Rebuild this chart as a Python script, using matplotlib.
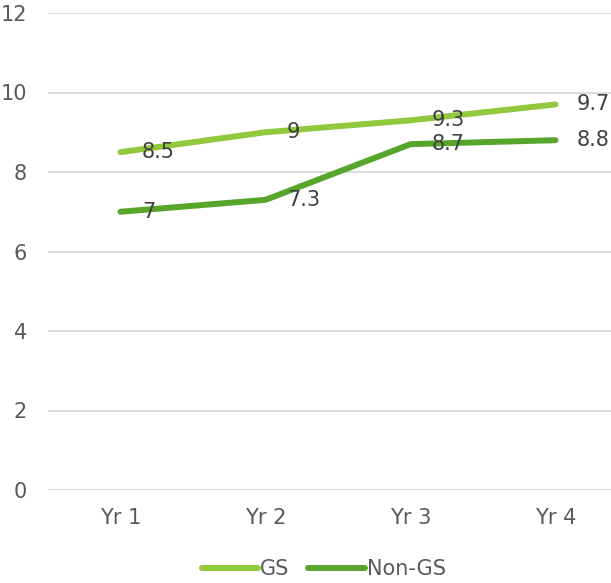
import matplotlib
matplotlib.use("Agg")
import matplotlib.pyplot as plt

# chart data
years = ["Yr 1", "Yr 2", "Yr 3", "Yr 4"]
gs = [8.5, 9, 9.3, 9.7]
non_gs = [7, 7.3, 8.7, 8.8]

gs_color = "#92C83E"
non_gs_color = "#58A52B"
text_color = "#595959"

plt.rcParams['font.family'] = ['DejaVu Sans']

fig = plt.figure(figsize=(6.11, 5.83), dpi=100)
ax = fig.add_axes([48 / 611, 1 - 490 / 583, (611 - 48) / 611, 477 / 583])

x = list(range(len(years)))
ax.plot(x, gs, color=gs_color, lw=4.3, solid_capstyle="round", label="GS", zorder=3)
ax.plot(x, non_gs, color=non_gs_color, lw=4.3, solid_capstyle="round", label="Non-GS", zorder=3)

# data labels to the right of each point
for xi, v in zip(x, gs):
    ax.annotate("{0:g}".format(v), (xi, v), xytext=(15.5, 0), textcoords="offset points",
                ha="left", va="center", fontsize=15, color="#404040", zorder=4)
for xi, v in zip(x, non_gs):
    ax.annotate("{0:g}".format(v), (xi, v), xytext=(15.5, 0), textcoords="offset points",
                ha="left", va="center", fontsize=15, color="#404040", zorder=4)

ax.set_ylim(0, 12)
ax.set_yticks(range(0, 13, 2))
ax.set_xlim(-0.5, (611 - 48) / 145 - 0.5)
ax.set_xticks(x)
ax.set_xticklabels(years)
ax.grid(axis="y", color="#D9D9D9", lw=1.3)
ax.set_axisbelow(True)
for s in ax.spines.values():
    s.set_visible(False)
ax.tick_params(length=0, labelsize=15, labelcolor=text_color)
ax.tick_params(axis="y", pad=15)
ax.tick_params(axis="x", pad=13)

fig.legend(loc="lower center", bbox_to_anchor=(0.53, -0.025), ncol=2, frameon=False,
           fontsize=15, labelcolor=text_color, handlelength=2.7, handletextpad=0.1,
           columnspacing=0.9)

plt.savefig("out.png", dpi=100)
plt.close()
